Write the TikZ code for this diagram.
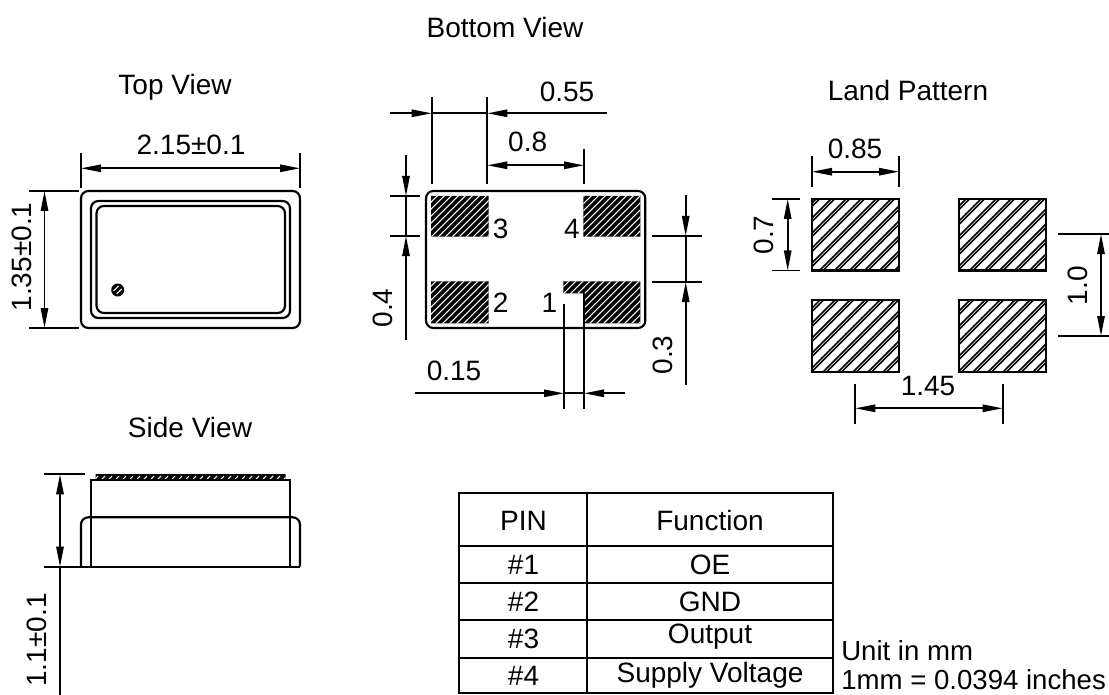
\documentclass[tikz,border=0pt]{standalone}
\usepackage{fontspec}
\setmainfont{Liberation Sans}
\usetikzlibrary{arrows.meta}
\tikzset{
	label/.style={font=\fontsize{21}{24}\selectfont, inner sep=0pt},
	vlabel/.style={label, rotate=90},
	notelabel/.style={font=\fontsize{20.7}{24}\selectfont, inner sep=0pt, anchor=west},
	outline/.style={line width=1.6pt, rounded corners=5.5pt},
	extline/.style={line width=1.3pt},
	dimone/.style={line width=1.3pt, -{Triangle[length=15pt,width=5.5pt]}},
	dimboth/.style={line width=1.3pt, {Triangle[length=15pt,width=5.5pt]}-{Triangle[length=15pt,width=5.5pt]}},
	darkhatch/.style={white, line width=.8pt},
	landhatch/.style={black, line width=1.3pt},
}
\begin{document}
\begin{tikzpicture}[x=.75pt, y=-.75pt]
	\useasboundingbox (0,0) rectangle (1109,695);
	% titles
	\node[label] (titlebottom) at (505,27) {Bottom View};
	\node[label] (titletop) at (175,87) {Top View};
	\node[label] (titleland) at (908,90) {Land Pattern};
	\node[label] (titleside) at (190,427) {Side View};
	% top view
	\draw[outline] (81,191) rectangle (300,328);
	\draw[outline] (91,201) rectangle (290,318);
	\draw[outline] (96.5,206) rectangle (285,313);
	\fill[black] (117.7,290) circle (6.5);
	\draw[white, line width=.8pt] (113.7,291) -- (118.7,286);
	\draw[white, line width=.8pt] (116.7,294) -- (121.7,289);
	\draw[extline] (81,153) -- (81,188);
	\draw[extline] (300,153) -- (300,188);
	\draw[dimboth] (81,168.3) -- (300,168.3);
	\node[label] (topwidth) at (191,145) {2.15±0.1};
	\draw[extline] (29,191) -- (79,191);
	\draw[extline] (29,328) -- (79,328);
	\draw[dimboth] (44.5,191) -- (44.5,328);
	\node[vlabel] (topheight) at (22,257) {1.35±0.1};
	% bottom view
	\begin{scope}
		\clip (431,196) rectangle (488.7,236.7) (583.3,196) rectangle (640.3,236.7)
			(431,281.3) rectangle (488.7,323.3)
			(563.3,281.3) -- (640.3,281.3) -- (640.3,323.3) -- (583.3,323.3) -- (583.3,293.3) -- (563.3,293.3) -- cycle;
		\fill[black] (425,190) rectangle (645,328);
		\foreach \k in {286,293,...,630}
			\draw[darkhatch] (\k,340) -- ++(160,-160);
	\end{scope}
	\draw[outline] (426,191) rectangle (645.3,328);
	\node[label] (pinthree) at (500.7,229) {3};
	\node[label] (pinfour) at (572,229) {4};
	\node[label] (pintwo) at (500.7,303) {2};
	\node[label] (pinone) at (549.3,303) {1};
	\draw[extline] (431.7,97) -- (431.7,184);
	\draw[extline] (487.3,97) -- (487.3,184);
	\draw[dimone] (390,113.3) -- (431.7,113.3);
	\draw[dimone] (607,113.3) -- (487.3,113.3);
	\draw[extline] (431.7,113.3) -- (487.3,113.3);
	\node[label] (padpitch) at (567,92) {0.55};
	\draw[extline] (584,149) -- (584,184);
	\draw[dimboth] (487.3,165.3) -- (584,165.3);
	\node[label] (padgap) at (527.7,142) {0.8};
	\draw[extline] (390,196) -- (420,196);
	\draw[extline] (390,236) -- (420,236);
	\draw[dimone] (406,155) -- (406,196);
	\draw[dimone] (406,340) -- (406,236);
	\draw[extline] (406,196) -- (406,236);
	\node[vlabel] (padheight) at (382.7,308) {0.4};
	\draw[extline] (651.7,236) -- (702,236);
	\draw[extline] (651.7,282) -- (702,282);
	\draw[dimone] (685.7,195) -- (685.7,236);
	\draw[dimone] (685.7,385) -- (685.7,282);
	\draw[extline] (685.7,236) -- (685.7,282);
	\node[vlabel] (padspace) at (663,355) {0.3};
	\draw[extline] (564,304) -- (564,409);
	\draw[extline] (584,293) -- (584,409);
	\draw[dimone] (414.7,393.3) -- (564,393.3);
	\draw[dimone] (625,393.3) -- (584,393.3);
	\draw[extline] (564,393.3) -- (584,393.3);
	\node[label] (notchwidth) at (454,371) {0.15};
	% land pattern
	\foreach \px/\py in {811.7/199, 959.3/199, 811.7/300.3, 959.3/300.3} {
		\begin{scope}
			\clip (\px,\py) rectangle ++(87,71.5);
			\foreach \k in {600,615,...,1030} {
				\draw[landhatch] (\k,400) -- ++(230,-230);
				\draw[landhatch] (\k+3.5,400) -- ++(230,-230);
			}
		\end{scope}
		\draw[line width=1.6pt] (\px,\py) rectangle ++(87,71.5);
	}
	\draw[extline] (812,156) -- (812,187);
	\draw[extline] (899,156) -- (899,187);
	\draw[dimboth] (812,171.7) -- (899,171.7);
	\node[label] (landwidth) at (855,149.3) {0.85};
	\draw[extline] (772.3,199) -- (800,199);
	\draw[extline] (772.3,270.5) -- (800,270.5);
	\draw[dimboth] (787.7,199) -- (787.7,270.5);
	\node[vlabel] (landheight) at (764,235) {0.7};
	\draw[extline] (1058.3,234) -- (1109,234);
	\draw[extline] (1058.3,336) -- (1109,336);
	\draw[dimboth] (1101,234) -- (1101,336);
	\node[vlabel] (landrows) at (1078,285.7) {1.0};
	\draw[extline] (855.3,384) -- (855.3,424);
	\draw[extline] (1002.7,384) -- (1002.7,424);
	\draw[dimboth] (855.3,408.3) -- (1002.7,408.3);
	\node[label] (landcols) at (928,385.7) {1.45};
	% side view
	\begin{scope}
		\clip (95.7,474.3) rectangle (285.7,480);
		\fill[black] (95,474) rectangle (286,480);
		\foreach \k in {60,67,...,300}
			\draw[darkhatch] (\k,479) -- ++(3,-3);
	\end{scope}
	\draw[line width=1.4pt] (91.3,566.7) -- (91.3,479.7) -- (290,479.7) -- (290,566.7);
	\draw[outline] (81,566.7) -- (81,517.3) -- (300,517.3) -- (300,566.7);
	\draw[line width=1.6pt] (81,566.7) -- (300,566.7);
	\draw[extline] (44,474.3) -- (85,474.3);
	\draw[extline] (44,566.7) -- (81,566.7);
	\draw[dimboth] (60,474.3) -- (60,566.7);
	\draw[extline] (60,566.7) -- (60,695);
	\node[vlabel] (sideheight) at (37,640) {1.1±0.1};
	% pin table
	\draw[line width=1.4pt] (459,493.3) rectangle (833.3,693.3);
	\draw[line width=1.4pt] (587,493.3) -- (587,693.3);
	\foreach \rowy in {545.7,583.3,620,657.7}
		\draw[line width=1.4pt] (459,\rowy) -- (833.3,\rowy);
	\node[label] (headpin) at (523.5,520.5) {PIN};
	\node[label] (headfunc) at (710,520.5) {Function};
	\node[label] (pinrowone) at (523.5,565) {\#1};
	\node[label] (funcrowone) at (710,565) {OE};
	\node[label] (pinrowtwo) at (523.5,602) {\#2};
	\node[label] (funcrowtwo) at (710,602) {GND};
	\node[label] (pinrowthree) at (523.5,639) {\#3};
	\node[label] (funcrowthree) at (710,637) {Output};
	\node[label] (pinrowfour) at (523.5,676) {\#4};
	\node[label] (funcrowfour) at (710,675) {Supply Voltage};
	\node[notelabel] (unitnote) at (841,651) {Unit in mm};
	\node[notelabel] (inchnote) at (841,680) {1mm = 0.0394 inches};
\end{tikzpicture}
\end{document}
